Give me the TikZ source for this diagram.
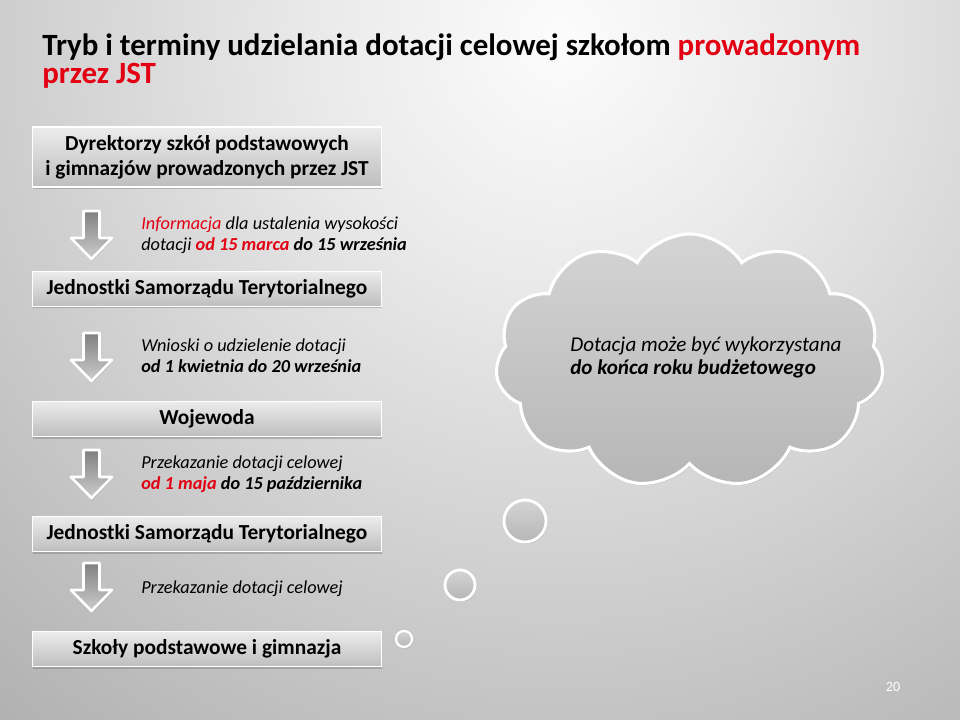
\documentclass[tikz,border=0pt]{standalone}
\usepackage{fontspec}
\setmainfont{Carlito}
\usepackage{xcolor}
\usetikzlibrary{shapes.symbols, shadows, positioning}
\definecolor{jstred}{RGB}{226, 0, 18}
\definecolor{bgcenter}{RGB}{252, 252, 252}
\definecolor{bgnear}{RGB}{234, 234, 234}
\definecolor{bgmid}{RGB}{170, 170, 170}
\definecolor{bgfar}{RGB}{144, 144, 144}
\definecolor{bgedge}{RGB}{105, 105, 105}
\definecolor{boxtop}{RGB}{236, 236, 236}
\definecolor{boxbot}{RGB}{190, 190, 190}
\definecolor{arrowdark}{RGB}{128, 128, 128}
\definecolor{arrowlight}{RGB}{205, 205, 205}
\definecolor{cloudtop}{RGB}{212, 212, 212}
\definecolor{cloudbot}{RGB}{182, 182, 182}
\pgfdeclareradialshading{slidebg}{\pgfpoint{0bp}{0bp}}{color(0bp)=(bgcenter); color(6bp)=(bgnear); color(24bp)=(bgmid); color(34bp)=(bgfar); color(50bp)=(bgedge)}

\begin{document}
\begin{tikzpicture}[
    x=0.025cm, y=-0.025cm,
    box/.style={rectangle, draw=white, line width=0.8pt, top color=boxtop, bottom color=boxbot, minimum width=8.725cm, minimum height=0.875cm, inner sep=0pt, align=center, font=\fontsize{15.2}{17.7}\selectfont\bfseries, drop shadow={shadow xshift=0.6pt, shadow yshift=-1.6pt, opacity=0.45}},
    arrowline/.style={draw=white, line width=1.8pt, line join=round, top color=arrowdark, bottom color=arrowlight, drop shadow={shadow xshift=0.8pt, shadow yshift=-1pt, opacity=0.35}},
    downarrow/.pic={\path[arrowline] (-8,0) -- (8,0) -- (8,27) -- (20.5,27) -- (0,48) -- (-20.5,27) -- (-8,27) -- cycle;},
    lbl/.style={anchor=base west, align=left, inner sep=0pt, font=\fontsize{13}{15.6}\selectfont\itshape},
    bubble/.style={draw=white, line width=2pt, top color=cloudtop, bottom color=cloudbot, drop shadow={shadow xshift=0.8pt, shadow yshift=-1.2pt, opacity=0.35}}
]
% background
\useasboundingbox (0,0) rectangle (960,720);
\begin{scope}
\clip (0,0) rectangle (960,720);
\shade[shading=slidebg] (560,40) circle (1000);
\end{scope}

% title
\node[anchor=base west, align=left, inner sep=0pt, font=\fontsize{22}{20.6}\selectfont\bfseries] (title) at (42,84)
    {Tryb i terminy udzielania dotacji celowej szkołom \textcolor{jstred}{prowadzonym}\\\textcolor{jstred}{przez JST}};

% boxes
\node[box, minimum height=1.5cm] (dyr) at (207,157) {Dyrektorzy szkół podstawowych\\i gimnazjów prowadzonych przez JST};
\node[box, below=2.075cm of dyr] (jst1) {Jednostki Samorządu Terytorialnego};
\node[box, below=2.35cm of jst1] (woj) {Wojewoda};
\node[box, below=1.975cm of woj] (jst2) {Jednostki Samorządu Terytorialnego};
\node[box, below=1.975cm of jst2] (szk) {Szkoły podstawowe i gimnazja};

% arrows
\pic (ar1) at (91.5,211) {downarrow};
\pic (ar2) at (91.5,333) {downarrow};
\pic (ar3) at (91.5,450) {downarrow};
\pic (ar4) at (91.5,563) {downarrow};

% labels
\node[lbl] (info) at (141,251) {\textcolor{jstred}{Informacja} dla ustalenia wysokości\\dotacji \textbf{\textcolor{jstred}{od 15 marca} do 15 września}};
\node[lbl] (wnio) at (141,373) {Wnioski o udzielenie dotacji\\\textbf{od 1 kwietnia do 20 września}};
\node[lbl] (prz1) at (141,490) {Przekazanie dotacji celowej\\\textbf{\textcolor{jstred}{od 1 maja} do 15 października}};
\node[lbl] (prz2) at (141,593) {Przekazanie dotacji celowej};

% cloud
\node[bubble, cloud, cloud puffs=11, cloud puff arc=115, aspect=1.6, minimum width=9.7cm, minimum height=6.35cm, line width=2.2pt] (chmura) at (689.5,361) {};
\node[lbl, font=\fontsize{15}{17}\selectfont\itshape] (chmtxt) at (570,375) {Dotacja może być wykorzystana\\\textbf{do końca roku budżetowego}};
\node[bubble, circle, minimum size=1.05cm] (bb1) at (525,521) {};
\node[bubble, circle, minimum size=0.75cm] (bb2) at (460,585) {};
\node[bubble, circle, minimum size=0.4cm, line width=1.6pt] (bb3) at (404,639) {};

% slide number
\node[text=white, font=\fontsize{10}{12}\selectfont] (nr) at (893,687) {20};
\end{tikzpicture}
\end{document}
